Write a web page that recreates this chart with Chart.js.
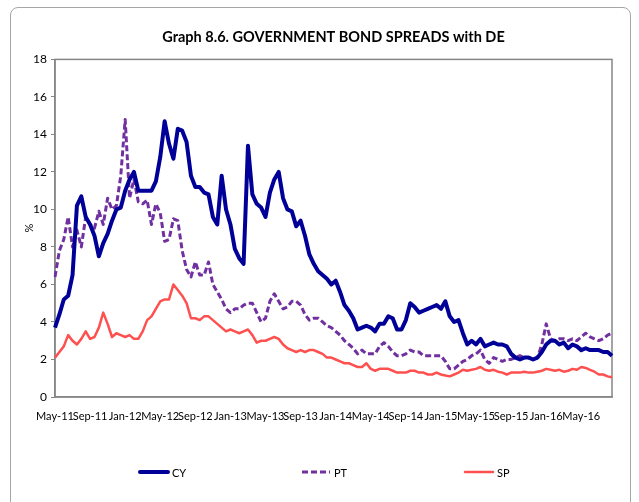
<!DOCTYPE html>
<html>
<head>
<meta charset="utf-8">
<title>Graph 8.6</title>
<script src="https://cdn.jsdelivr.net/npm/chart.js@4.4.1/dist/chart.umd.min.js"></script>
<style>
  html, body { margin: 0; padding: 0; background: #fff; }
  #wrap { position: relative; width: 639px; height: 502px; overflow: hidden; }
  #frame { position: absolute; left: 10px; top: 7px; width: 619px; height: 530px; border: 1.5px solid #a6a6a6; border-radius: 8px; }
  #myChart { position: absolute; left: 0; top: 0; }
</style>
</head>
<body>
<div id="wrap">
  <div id="frame"></div>
  <canvas id="myChart" width="639" height="502"></canvas>
</div>
<script>
'use strict';

// x axis labels, one every 4 months (data is read every half month)
const tickLabels = ['May-11', 'Sep-11', 'Jan-12', 'May-12', 'Sep-12', 'Jan-13', 'May-13', 'Sep-13',
                    'Jan-14', 'May-14', 'Sep-14', 'Jan-15', 'May-15', 'Sep-15', 'Jan-16', 'May-16'];

const seriesNames = ['CY', 'PT', 'SP'];

// spreads vs DE, %, half-monthly from May-11
const cyValues = [
   3.7, 4.4, 5.2, 5.4, 6.5, 10.2, 10.7, 9.6,
   9.2, 8.6, 7.5, 8.2, 8.7, 9.4, 10.0, 10.1,
   11.0, 11.6, 12.0, 11.0, 11.0, 11.0, 11.0, 11.5,
   12.8, 14.7, 13.5, 12.7, 14.3, 14.2, 13.6, 11.8,
   11.2, 11.2, 10.9, 10.8, 9.6, 9.2, 11.8, 10.0,
   9.2, 7.9, 7.4, 7.1, 13.4, 10.8, 10.3, 10.1,
   9.6, 10.9, 11.6, 12.0, 10.6, 10.0, 9.9, 9.1,
   9.4, 8.6, 7.6, 7.1, 6.7, 6.5, 6.3, 6.0,
   6.2, 5.6, 4.9, 4.6, 4.2, 3.6, 3.7, 3.8,
   3.7, 3.5, 3.9, 3.9, 4.3, 4.2, 3.6, 3.6,
   4.1, 5.0, 4.8, 4.5, 4.6, 4.7, 4.8, 4.9,
   4.7, 5.1, 4.3, 4.0, 4.1, 3.4, 2.8, 3.0,
   2.8, 3.1, 2.7, 2.8, 2.9, 2.8, 2.8, 2.7,
   2.3, 2.1, 2.0, 2.1, 2.1, 2.0, 2.1, 2.4,
   2.8, 3.0, 3.0, 2.8, 2.9, 2.6, 2.8, 2.7,
   2.5, 2.6, 2.5, 2.5, 2.5, 2.4, 2.4, 2.2
];

const ptValues = [
   6.4, 7.8, 8.4, 9.6, 8.0, 8.9, 8.0, 9.6,
   9.2, 9.0, 9.9, 9.2, 10.6, 10.0, 10.2, 11.8,
   14.8, 10.6, 11.6, 10.4, 10.3, 10.5, 9.2, 10.3,
   9.8, 8.3, 8.4, 9.5, 9.4, 7.8, 6.8, 6.4,
   7.2, 6.5, 6.5, 7.2, 6.0, 5.6, 5.2, 4.7,
   4.5, 4.7, 4.7, 4.9, 5.0, 5.0, 4.5, 4.0,
   4.2, 5.1, 5.5, 5.1, 4.7, 4.8, 5.1, 5.1,
   4.9, 4.4, 4.1, 4.2, 4.2, 4.0, 3.8, 3.7,
   3.5, 3.3, 3.0, 2.8, 2.6, 2.3, 2.5, 2.3,
   2.3, 2.3, 2.7, 2.9, 2.7, 2.4, 2.2, 2.2,
   2.3, 2.5, 2.4, 2.4, 2.2, 2.2, 2.2, 2.2,
   2.2, 1.9, 1.5, 1.5, 1.7, 1.9, 2.0, 2.2,
   2.3, 2.5, 2.0, 1.8, 2.1, 2.0, 1.9, 2.0,
   2.0, 2.1, 2.2, 2.1, 2.1, 2.0, 2.1, 2.8,
   3.9, 3.1, 3.0, 3.1, 3.1, 3.0, 3.1, 3.0,
   3.2, 3.4, 3.2, 3.1, 3.0, 3.1, 3.3, 3.4
];

const spValues = [
   2.1, 2.4, 2.7, 3.3, 3.0, 2.8, 3.1, 3.5,
   3.1, 3.2, 3.7, 4.5, 3.9, 3.2, 3.4, 3.3,
   3.2, 3.3, 3.1, 3.1, 3.5, 4.1, 4.3, 4.7,
   5.1, 5.2, 5.2, 6.0, 5.7, 5.4, 5.0, 4.2,
   4.2, 4.1, 4.3, 4.3, 4.1, 3.9, 3.7, 3.5,
   3.6, 3.5, 3.4, 3.5, 3.6, 3.3, 2.9, 3.0,
   3.0, 3.1, 3.2, 3.1, 2.8, 2.6, 2.5, 2.4,
   2.5, 2.4, 2.5, 2.5, 2.4, 2.3, 2.1, 2.1,
   2.0, 1.9, 1.8, 1.8, 1.7, 1.6, 1.6, 1.8,
   1.5, 1.4, 1.5, 1.5, 1.5, 1.4, 1.3, 1.3,
   1.3, 1.4, 1.4, 1.3, 1.3, 1.2, 1.2, 1.3,
   1.2, 1.15, 1.1, 1.2, 1.3, 1.45, 1.4, 1.45,
   1.5, 1.6, 1.45, 1.4, 1.45, 1.35, 1.3, 1.2,
   1.3, 1.3, 1.3, 1.35, 1.3, 1.3, 1.35, 1.4,
   1.5, 1.45, 1.4, 1.45, 1.35, 1.4, 1.5, 1.45,
   1.6, 1.55, 1.45, 1.35, 1.2, 1.2, 1.1, 1.05
];

const FONT = "Lato, 'Open Sans', sans-serif";
Chart.defaults.font.family = FONT;
Chart.defaults.color = '#000';

// one label per half month, only every 8th one is shown
const labels = cyValues.map((v, i) => (i % 8 === 0 ? tickLabels[i / 8] : ''));

// excel style legend: three items spread out in one row under the axis
const legendX = [140, 302, 465];
const rowLegend = {
   id: 'rowLegend',
   afterDraw(chart) {
      const ctx = chart.ctx;
      ctx.save();
      chart.data.datasets.forEach((ds, k) => {
         const x = legendX[k], y = 472;
         ctx.strokeStyle = ds.borderColor;
         ctx.lineWidth = ds.borderWidth;
         ctx.lineCap = ds.borderDash ? 'butt' : 'round';
         ctx.setLineDash(ds.borderDash || []);
         ctx.beginPath();
         ctx.moveTo(x, y);
         ctx.lineTo(x + 28, y);
         ctx.stroke();
         ctx.setLineDash([]);
         ctx.fillStyle = '#000';
         ctx.font = '11px ' + FONT;
         ctx.textBaseline = 'middle';
         ctx.fillText(ds.label, x + 32, y + 1);
      });
      ctx.restore();
   }
};

// grey box round the plot area
const plotBox = {
   id: 'plotBox',
   beforeDatasetsDraw(chart) {
      const a = chart.chartArea, ctx = chart.ctx;
      ctx.save();
      ctx.strokeStyle = '#868686';
      ctx.lineWidth = 1.5;
      ctx.strokeRect(a.left, a.top, a.right - a.left, a.bottom - a.top);
      ctx.restore();
   }
};

const ctx = document.getElementById('myChart');
const myChart = new Chart(ctx, {
   type: 'line',
   data: {
      labels: labels,
      datasets: [
         { label: seriesNames[0], data: cyValues, borderColor: '#000099', borderWidth: 4 },
         { label: seriesNames[1], data: ptValues, borderColor: '#7030a0', borderWidth: 3, borderDash: [6, 3] },
         { label: seriesNames[2], data: spValues, borderColor: '#ff5050', borderWidth: 2.5 }
      ]
   },
   options: {
      responsive: false,
      animation: false,
      elements: { point: { radius: 0 }, line: { tension: 0, borderJoinStyle: 'round' } },
      layout: { padding: { left: 0, right: 27, top: 0, bottom: 65 } },
      plugins: {
         legend: { display: false },
         tooltip: { enabled: false },
         title: {
            display: true,
            fullSize: false,
            text: 'Graph 8.6. GOVERNMENT BOND SPREADS with DE',
            font: { size: 14.5, weight: 'bold' },
            color: '#000',
            padding: { top: 29, bottom: 13 }
         }
      },
      scales: {
         x: {
            grid: { drawOnChartArea: false, drawTicks: false },
            border: { color: '#868686', width: 1.5 },
            ticks: {
               autoSkip: false,
               maxRotation: 0,
               padding: 13,
               font: { size: 11 },
               callback: function (val) { return this.getLabelForValue(val) || null; }
            },
            afterFit: s => { s.height = 40; }
         },
         y: {
            min: 0,
            max: 18,
            ticks: { stepSize: 2, padding: 4, font: { size: 12 } },
            grid: { drawOnChartArea: false, tickLength: 4, color: '#868686' },
            border: { color: '#868686', width: 1.5 },
            title: { display: true, text: '%', font: { size: 11 }, padding: { top: 23, bottom: 0 } },
            afterFit: s => { s.width = 55; }
         }
      }
   },
   plugins: [plotBox, rowLegend]
});
</script>
</body>
</html>
